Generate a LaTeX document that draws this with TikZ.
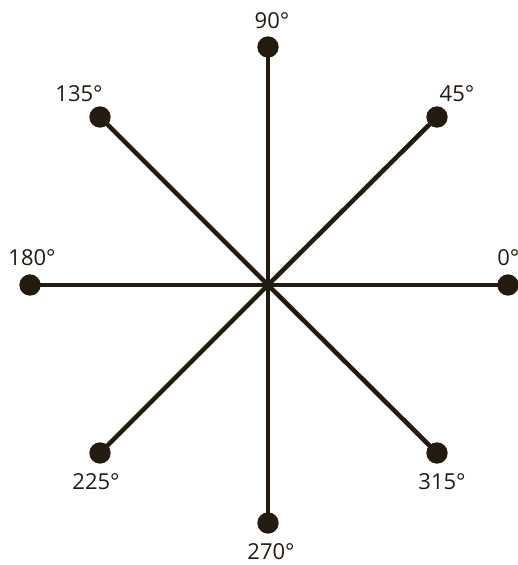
\documentclass[tikz,border=0pt]{standalone}
\usepackage{fontspec}
\setmainfont{Open Sans}
\definecolor{ink}{HTML}{231A10}
\begin{document}
\begin{tikzpicture}[x=0.75pt,y=-0.75pt,
  dot/.style={circle,fill=ink,inner sep=0pt,minimum size=16pt},
  spoke/.style={draw=ink,line width=3.4pt},
  lbl/.style={text=ink,font=\fontsize{16.5}{19}\selectfont,inner sep=0pt}]
\clip (0,0) rectangle (518,565);
\useasboundingbox (0,0) rectangle (518,565);
\coordinate (c) at (268,285);
\node[dot] (d0) at (508,285) {};
\node[dot] (d45) at (437,117) {};
\node[dot] (d90) at (268,47) {};
\node[dot] (d135) at (100,117) {};
\node[dot] (d180) at (30,285) {};
\node[dot] (d225) at (100,453) {};
\node[dot] (d270) at (268,523) {};
\node[dot] (d315) at (437,453) {};
\foreach \n in {d0,d45,d90,d135,d180,d225,d270,d315} \draw[spoke] (c) -- (\n.center);
\node[lbl,anchor=west] (l0) at (497,258) {0°};
\node[lbl] (l45) at (457,94) {45°};
\node[lbl] (l90) at (272,21) {90°};
\node[lbl] (l135) at (79,94) {135°};
\node[lbl] (l180) at (32,258) {180°};
\node[lbl] (l225) at (96,482) {225°};
\node[lbl] (l270) at (271,552) {270°};
\node[lbl] (l315) at (442,482) {315°};
\end{tikzpicture}
\end{document}
